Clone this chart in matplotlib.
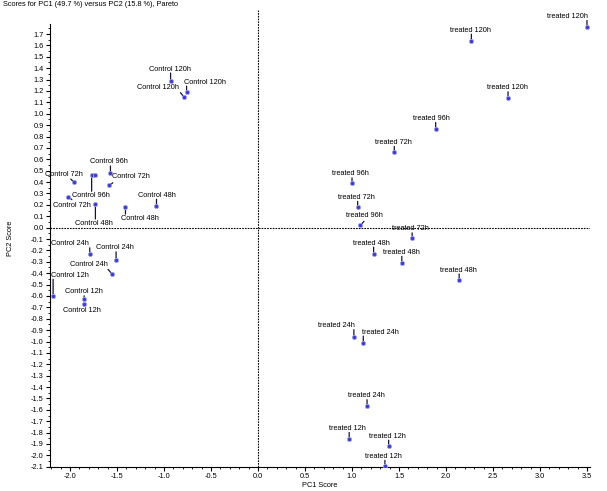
import matplotlib
matplotlib.use('Agg')
import matplotlib.pyplot as plt
from matplotlib import font_manager
from matplotlib.ticker import MultipleLocator, FixedLocator, FormatStrFormatter

# a narrow sans would match the tight Windows font best; fall back to a smaller Liberation Sans
names = {f.name for f in font_manager.fontManager.ttflist}
if 'Liberation Sans Narrow' in names:
    family, fs = 'Liberation Sans Narrow', 6
else:
    family, fs = 'Liberation Sans', 5.3
plt.rcParams['font.family'] = [family, 'DejaVu Sans']
plt.rcParams['axes.unicode_minus'] = False

# Data
treated_labels = ['treated 120h', 'treated 120h', 'treated 120h',
                  'treated 96h', 'treated 72h', 'treated 96h', 'treated 72h',
                  'treated 96h', 'treated 72h', 'treated 48h', 'treated 48h',
                  'treated 48h', 'treated 24h', 'treated 24h', 'treated 24h',
                  'treated 12h', 'treated 12h', 'treated 12h']
treated_pc1 = [3.50, 2.27, 2.66, 1.89, 1.45, 1.00, 1.06, 1.09, 1.64,
               1.23, 1.53, 2.14, 1.02, 1.12, 1.16, 0.97, 1.39, 1.35]
treated_pc2 = [1.76, 1.64, 1.14, 0.87, 0.66, 0.39, 0.18, 0.02, -0.09,
               -0.23, -0.31, -0.46, -0.96, -1.01, -1.57, -1.86, -1.92, -2.09]

control_labels = ['Control 120h', 'Control 120h', 'Control 120h',
                  'Control 96h', 'Control 72h', 'Control 96h', 'Control 96h',
                  'Control 72h', 'Control 72h', 'Control 48h', 'Control 48h',
                  'Control 48h', 'Control 24h', 'Control 24h', 'Control 24h',
                  'Control 12h', 'Control 12h', 'Control 12h']
control_pc1 = [-0.93, -0.79, -0.76, -1.57, -1.96, -1.77, -1.73, -1.58, -2.02,
               -1.73, -1.41, -1.08, -1.79, -1.51, -1.55, -2.18, -1.85, -1.85]
control_pc2 = [1.29, 1.15, 1.19, 0.48, 0.40, 0.46, 0.46, 0.37, 0.27,
               0.21, 0.18, 0.19, -0.23, -0.28, -0.41, -0.60, -0.63, -0.67]

# label placement in pixels (text centre relative to the point); None = label hidden under a neighbour
treated_offsets = [(-19, 10.7), (-1, 10.7), (-1, 10), (-4, 10), (-1, 10), (-2, 9.3),
                   (-1, 9.7), (4, 10), (-2, 9), (-2, 10.7), (0, 10.6), (-1, 10),
                   (-17.6, 11.3), (16.7, 10.6), (-0.6, 10.7), (-1.3, 11), (-1, 10), (-1.7, 9.3)]
treated_stems = [None] * 7 + [(3.5, 4)] + [None] * 10

control_offsets = [(-0.7, 11.7), (-25.7, 9.4), (18.7, 10), (-1.7, 11), (-10, 7.7),
                   (-1, -20), None, (21.4, 8.7), (4, -8.7), (-1.7, -19.3),
                   (14.3, -11), (0, 10.7), (-20, 10), (-1, 11.7), (-23.4, 10),
                   (16.6, 20.7), (0, 7.6), (-2, -6.5)]
control_stems = [None, (-3.3, 4), None, None, (-3, 3), None, None, (3.3, 2.7),
                 (3.7, -2.7), None, None, None, None, None, (-4.3, 5), None, None, None]

fig = plt.figure(figsize=(6.07, 4.91), dpi=100)
ax = fig.add_axes([50 / 607, 1 - 467 / 491, 540 / 607, 457 / 491])

ax.set_xlim(-2.213, 3.532)
ax.set_ylim(-2.102, 1.911)

ax.axhline(0, color='black', lw=0.8, linestyle=(0, (1.5, 1)), zorder=1)
ax.axvline(0, color='black', lw=0.8, linestyle=(0, (1.5, 1)), zorder=1)


def draw_group(xs, ys, labels, offsets, stems):
    ax.plot(xs, ys, 'o', ms=3.0, color='#3c3cc8', mec='#a0a0ec', mew=0.6, zorder=4)
    for x, y, lab, off, st in zip(xs, ys, labels, offsets, stems):
        if off is None:
            continue
        dx, dy = off
        if st is None:
            st = (0, dy - 4 if dy > 0 else dy + 4)
        ax.annotate('', xy=(x, y), xytext=st, textcoords='offset pixels',
                    arrowprops=dict(arrowstyle='-', lw=0.9, color='#141432',
                                    shrinkA=0, shrinkB=0), zorder=3)
        ax.annotate(lab, xy=(x, y), xytext=(dx, dy), textcoords='offset pixels',
                    ha='center', va='center', fontsize=fs, zorder=5)


draw_group(treated_pc1, treated_pc2, treated_labels, treated_offsets, treated_stems)
draw_group(control_pc1, control_pc2, control_labels, control_offsets, control_stems)

# axes look: only left and bottom lines, ticks outwards
ax.spines['top'].set_visible(False)
ax.spines['right'].set_visible(False)
ax.spines['left'].set_bounds(-2.102, 1.79)
ax.xaxis.set_major_locator(MultipleLocator(0.5))
ax.xaxis.set_minor_locator(FixedLocator([v / 10 for v in range(-22, 36)]))
ax.set_yticks([v / 10 for v in range(-21, 18)])
ax.yaxis.set_minor_locator(FixedLocator([v / 100 for v in range(-205, 180, 10)]))
ax.xaxis.set_major_formatter(FormatStrFormatter('%.1f'))
ax.yaxis.set_major_formatter(FormatStrFormatter('%.1f'))
ax.tick_params(which='major', length=3, width=0.8, labelsize=fs, pad=1.5)
ax.tick_params(which='minor', length=1.5, width=0.6)

ax.set_xlabel('PC1 Score', fontsize=fs, labelpad=1.5)
ax.set_ylabel('PC2 Score', fontsize=fs, labelpad=12)

fig.text(3 / 607, 1 - 5 / 491, 'Scores for PC1 (49.7 %) versus PC2 (15.8 %), Pareto',
         fontsize=fs, ha='left', va='center')

fig.savefig('out.png', dpi=100)
